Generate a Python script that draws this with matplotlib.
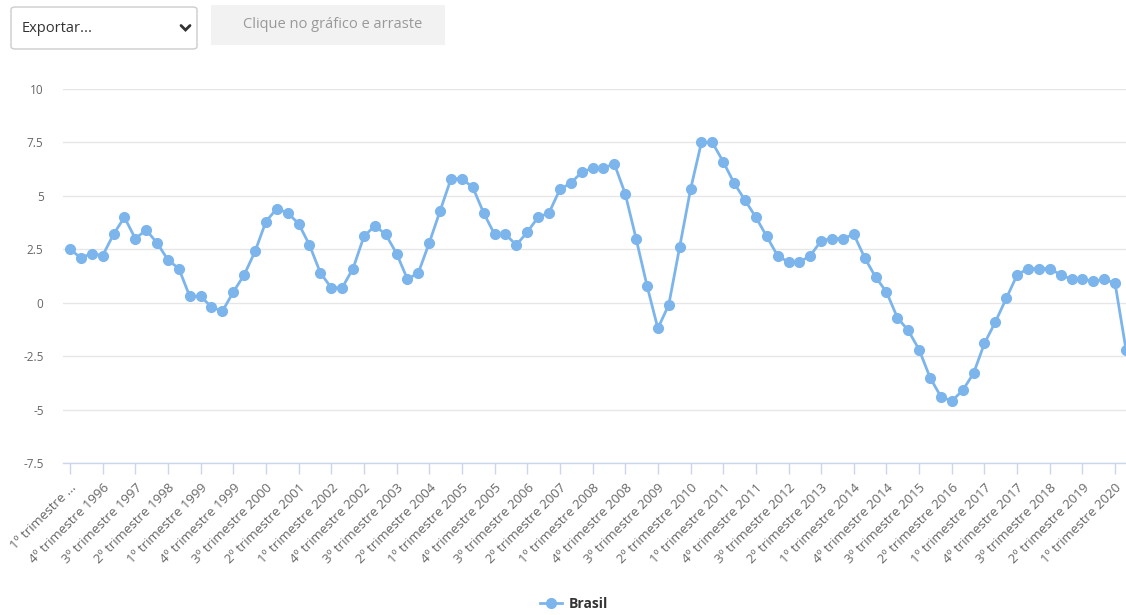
import numpy as np
import matplotlib.pyplot as plt
from matplotlib.patches import FancyBboxPatch, Rectangle
from matplotlib.lines import Line2D

# PIB Brasil - taxa acumulada em 4 trimestres (%), 1º tri 1996 ate 2º tri 2020
years = list(range(1996, 2021))
quarters = ['1º', '2º', '3º', '4º']
values = [
    2.5, 2.1, 2.3, 2.2, 3.2, 4.0, 3.0, 3.4, 2.8, 2.0,
    1.6, 0.3, 0.3, -0.2, -0.4, 0.5, 1.3, 2.4, 3.8, 4.4,
    4.2, 3.7, 2.7, 1.4, 0.7, 0.7, 1.6, 3.1, 3.6, 3.2,
    2.3, 1.1, 1.4, 2.8, 4.3, 5.8, 5.8, 5.4, 4.2, 3.2,
    3.2, 2.7, 3.3, 4.0, 4.2, 5.3, 5.6, 6.1, 6.3, 6.3,
    6.5, 5.1, 3.0, 0.8, -1.2, -0.1, 2.6, 5.3, 7.5, 7.5,
    6.6, 5.6, 4.8, 4.0, 3.1, 2.2, 1.9, 1.9, 2.2, 2.9,
    3.0, 3.0, 3.2, 2.1, 1.2, 0.5, -0.7, -1.3, -2.2, -3.5,
    -4.4, -4.6, -4.1, -3.3, -1.9, -0.9, 0.2, 1.3, 1.6, 1.6,
    1.6, 1.3, 1.1, 1.1, 1.0, 1.1, 0.9, -2.2,
]
categories = [q + ' trimestre ' + str(y) for y in years for q in quarters][:len(values)]
y_ticks = [-7.5, -5, -2.5, 0, 2.5, 5, 7.5, 10]
y_labels = ['-7.5', '-5', '-2.5', '0', '2.5', '5', '7.5', '10']
series_name = 'Brasil'

line_color = '#7cb5ec'
grid_color = '#e6e6e6'
axis_color = '#ccd6eb'
label_color = '#666666'

plt.rcParams['font.family'] = ['Open Sans', 'DejaVu Sans']

W, H = 1126, 615
fig = plt.figure(figsize=(W / 100, H / 100), dpi=100)
fig.patch.set_facecolor('white')

# top controls
sel = FancyBboxPatch((11 / W, 1 - 49 / H), 186 / W, 42 / H,
                     boxstyle='round,pad=0,rounding_size=0.004',
                     transform=fig.transFigure, facecolor='white',
                     edgecolor='#cccccc', linewidth=1)
fig.patches.append(sel)
fig.text(22 / W, 1 - 29 / H, 'Exportar...', fontsize=10.5, color='#333333',
         ha='left', va='center')
chev = Line2D([181 / W, 185.5 / W, 190 / W], [1 - 25.5 / H, 1 - 30 / H, 1 - 25.5 / H],
              transform=fig.transFigure, color='#333333', linewidth=2,
              solid_capstyle='round', solid_joinstyle='miter')
fig.lines.append(chev)
btn = Rectangle((211 / W, 1 - 45 / H), 234 / W, 40 / H, transform=fig.transFigure,
                facecolor='#f2f2f2', edgecolor='none')
fig.patches.append(btn)
fig.text(333 / W, 1 - 25 / H, 'Clique no gráfico e arraste', fontsize=10.5,
         color='#999999', ha='center', va='center')

# plot area
left, right, top, bottom = 63, 1126, 89, 463
ax = fig.add_axes([left / W, 1 - bottom / H, (right - left) / W, (bottom - top) / H])
x = np.arange(len(values))
ax.plot(x, values, color=line_color, linewidth=2, marker='o', markersize=7,
        markerfacecolor=line_color, markeredgecolor=line_color, zorder=3,
        label=series_name)

ax.set_xlim(-0.64, len(values) - 1)
ax.set_ylim(-7.5, 10)
ax.set_yticks(y_ticks)
ax.set_yticklabels(y_labels)
ax.yaxis.grid(True, color=grid_color, linewidth=1)
ax.set_axisbelow(True)
for s in ['top', 'right', 'left']:
    ax.spines[s].set_visible(False)
ax.spines['bottom'].set_color(axis_color)
ax.spines['bottom'].set_linewidth(1)
ax.tick_params(axis='y', length=0, pad=14, labelsize=8.5, labelcolor=label_color)

tick_pos = x[::3]
tick_lab = [categories[i] for i in tick_pos]
tick_lab[0] = tick_lab[0][:13] + '...'
ax.set_xticks(tick_pos)
ax.set_xticklabels(tick_lab, rotation=45, ha='right', va='top',
                   rotation_mode='anchor')
ax.tick_params(axis='x', length=8, width=1, color=axis_color, pad=5,
               labelsize=9.5, labelcolor=label_color)

leg = fig.legend(loc='center', bbox_to_anchor=(0.51, 1 - 604 / H), frameon=False,
                 handlelength=1.6, handletextpad=0.5,
                 prop={'weight': 'bold', 'size': 10})
for t in leg.get_texts():
    t.set_color('#333333')

fig.savefig('out.png', dpi=100)
